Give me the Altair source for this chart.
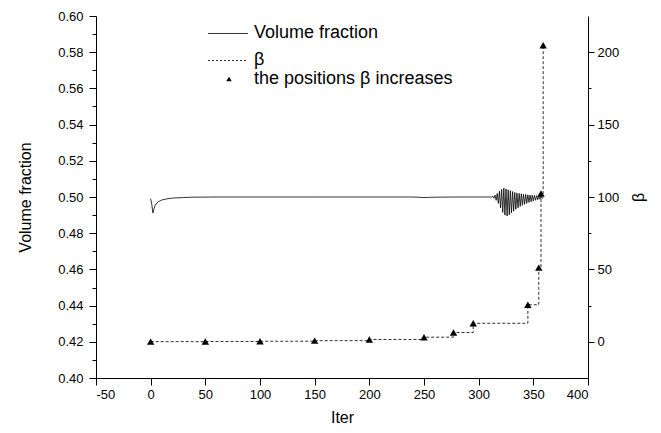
import altair as alt
import pandas as pd

# ---- data ----
vf_iter = [0, 1, 2, 3, 4, 5, 7, 10, 15, 20, 30, 40, 60, 100, 150, 200, 240, 250, 255, 260, 280, 300, 308, 312,
           313, 314, 315, 316, 317, 318, 319, 320, 321, 322, 323, 324, 325, 326, 327, 328, 329, 330, 331, 332,
           333, 334, 335, 336, 337, 338, 339, 340, 341, 342, 343, 344, 345, 346, 347, 348, 349, 350, 351, 352,
           353, 354, 355, 356, 357, 358, 359]
vf_val = [0.4990, 0.4960, 0.4912, 0.4935, 0.4952, 0.4962, 0.4974, 0.4983, 0.4990, 0.4994, 0.4997, 0.4999,
          0.5000, 0.5000, 0.5000, 0.5000, 0.5000, 0.4997, 0.4998, 0.4999, 0.5000, 0.5000, 0.5000, 0.5000,
          0.5004, 0.4993, 0.5010, 0.4982, 0.5020, 0.4965, 0.5032, 0.4940, 0.5042, 0.4915, 0.5048, 0.4900,
          0.5045, 0.4895, 0.5040, 0.4902, 0.5035, 0.4912, 0.5030, 0.4922, 0.5026, 0.4932, 0.5022, 0.4940,
          0.5020, 0.4948, 0.5018, 0.4954, 0.5016, 0.4960, 0.5014, 0.4965, 0.5012, 0.4970, 0.5011, 0.4974,
          0.5010, 0.4978, 0.5009, 0.4982, 0.5007, 0.4985, 0.5005, 0.4988, 0.5004, 0.4992, 0.5000]

beta_iter = [0, 50, 100, 150, 200, 250, 277, 295, 345, 355, 357, 359]
beta_val = [0.1, 0.2, 0.4, 0.8, 1.6, 3.2, 6.4, 12.8, 25.6, 51.2, 102.4, 204.8]

legend_labels = ["Volume fraction", "\u03b2", "the positions \u03b2 increases"]

x_ticks = list(range(-50, 401, 25))
vf_ticks = [round(0.40 + 0.01 * i, 2) for i in range(21)]
beta_ticks = list(range(0, 201, 25))

W, H = 492, 362
FONT = "Liberation Sans"

vf_df = pd.DataFrame({"iter": vf_iter, "vf": vf_val})
beta_df = pd.DataFrame({"iter": beta_iter, "beta": beta_val})

x_scale = alt.Scale(domain=[-50, 400], nice=False, zero=False)
x_axis = alt.Axis(
    values=x_ticks,
    labelExpr="datum.value % 50 === 0 ? '' + datum.value : ''",
    tickSize={"condition": {"test": "datum.value % 50 === 0", "value": 7}, "value": 4},
    grid=False, title="Iter", labelPadding=3, titlePadding=8,
)

vf_line = alt.Chart(vf_df).mark_line(color="black", strokeWidth=0.8).encode(
    x=alt.X("iter:Q", scale=x_scale, axis=x_axis),
    y=alt.Y("vf:Q", scale=alt.Scale(domain=[0.40, 0.60], nice=False, zero=False),
            axis=alt.Axis(values=vf_ticks, orient="left", grid=False,
                          labelExpr="round(datum.value*100) % 2 === 0 ? format(datum.value, '.2f') : ''",
                          tickSize={"condition": {"test": "round(datum.value*100) % 2 === 0", "value": 7}, "value": 4},
                          title="Volume fraction", labelPadding=6, titlePadding=24)),
)

beta_scale = alt.Scale(domain=[-25, 225], nice=False, zero=False)

beta_line = alt.Chart(beta_df).mark_line(
    interpolate="step-after", color="#333333", strokeWidth=1, strokeDash=[3, 2]
).encode(
    x=alt.X("iter:Q", scale=x_scale),
    y=alt.Y("beta:Q", scale=beta_scale,
            axis=alt.Axis(values=beta_ticks, orient="right", grid=False,
                          labelExpr="datum.value % 50 === 0 ? '' + datum.value : ''",
                          tickSize={"condition": {"test": "datum.value % 50 === 0", "value": 6}, "value": 3},
                          title="\u03b2", titleAngle=270, titleX=50, titleY=H / 2,
                          titleAlign="center", titleBaseline="middle", labelPadding=3)),
)

beta_pts = alt.Chart(beta_df).mark_point(
    shape="triangle-up", filled=True, color="black", size=55, opacity=1
).encode(
    x=alt.X("iter:Q", scale=x_scale),
    y=alt.Y("beta:Q", scale=beta_scale),
)

beta_group = alt.layer(beta_line, beta_pts)

# legend drawn as decorations
one = pd.DataFrame({"k": [0]})
leg_solid = alt.Chart(one).mark_rule(color="black", strokeWidth=0.8).encode(
    x=alt.value(112), x2=alt.value(152), y=alt.value(17.5))
leg_dash = alt.Chart(one).mark_rule(color="#333333", strokeWidth=1, strokeDash=[2, 2]).encode(
    x=alt.value(112), x2=alt.value(152), y=alt.value(44.5))
leg_tri = alt.Chart(one).mark_point(shape="triangle-up", filled=True, color="black", size=30, opacity=1).encode(
    x=alt.value(133), y=alt.value(63))
leg_texts = [
    alt.Chart(pd.DataFrame({"t": [lab]})).mark_text(
        align="left", baseline="middle", font=FONT, fontSize=18, color="black"
    ).encode(x=alt.value(158), y=alt.value(yy), text="t:N")
    for lab, yy in zip(legend_labels, [17, 44, 63])
]

chart = alt.layer(
    vf_line, beta_group, leg_solid, leg_dash, leg_tri, *leg_texts
).resolve_scale(y="independent").properties(
    width=W, height=H,
    autosize=alt.AutoSizeParams(type="none"),
    padding={"left": 88, "top": 8, "right": 60, "bottom": 52},
).configure_view(stroke=None).configure_axis(
    domainColor="black", tickColor="black", labelColor="black", titleColor="black",
    labelFont=FONT, titleFont=FONT, labelFontSize=13, titleFontSize=16, titleFontWeight="normal",
    domainWidth=1, tickWidth=1,
)

chart.save("out.html", embed_options={"renderer": "svg", "actions": False})
